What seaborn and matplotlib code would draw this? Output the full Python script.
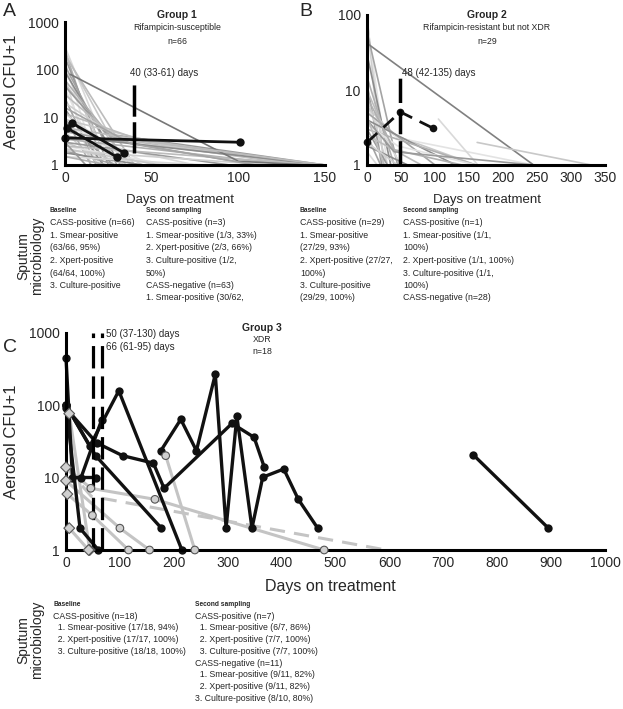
"""Aerosol CFU over time for three drug-resistance groups, with sputum summaries."""

import matplotlib

matplotlib.use("Agg")
import matplotlib.pyplot as plt
import pandas as pd
import seaborn as sns
from matplotlib.ticker import FixedLocator, MultipleLocator, NullFormatter

# ---- Group 1 (rifampicin-susceptible) -------------------------------------
A_GRAY_DAYS = [
    [0, 28], [0, 22], [0, 35], [0, 25], [0, 18], [0, 40], [0, 30], [0, 20, 45],
    [0, 32], [0, 15], [0, 26, 140], [0, 38], [0, 24, 150], [0, 20], [0, 30, 135],
    [0, 18], [0, 35, 145], [0, 22], [0, 40], [0, 15], [0, 60, 150], [0, 28],
    [0, 50], [0, 140], [0, 110], [0, 20], [0, 150], [0, 75], [0, 130], [0, 35],
    [0, 95], [0, 60], [0, 145], [0, 30], [0, 120], [0, 45], [0, 80], [0, 25],
    [0, 55], [0, 12], [3, 100, 140], [0, 45, 150], [0, 38, 110],
]
A_GRAY_CFU = [
    [300, 1], [250, 1], [220, 1], [180, 1], [150, 1], [200, 1], [120, 1], [100, 3, 1],
    [90, 1], [70, 1], [60, 4, 1], [50, 1], [45, 4.5, 1], [40, 1], [30, 3.5, 1],
    [25, 1], [20, 3, 1], [15, 1], [12, 1], [10, 1], [9, 2.5, 1], [8, 1],
    [7, 1], [6, 1], [5, 1], [5, 1], [4, 1], [4, 1], [3.5, 1], [3, 1],
    [3, 1], [2.5, 1], [2.5, 1], [2, 1], [2, 1], [1.8, 1], [1.5, 1], [1.5, 1],
    [2.2, 1], [3, 1], [80, 1.2, 1], [12, 3.2, 1], [16, 2.8, 1],
]
A_BLACK_DAYS = [[0, 101], [1, 30], [4, 34]]
A_BLACK_CFU = [[3.7, 3.0], [6.0, 1.47], [7.6, 1.8]]
A_MEDIAN = 40

# ---- Group 2 (rifampicin-resistant, not XDR) ------------------------------
B_GRAY_DAYS = [
    [0, 20], [0, 25], [0, 30], [0, 45], [0, 35], [0, 40], [0, 22], [0, 48],
    [0, 30], [0, 50], [0, 40, 160], [0, 45, 245], [0, 100], [0, 130], [0, 160],
    [0, 30], [0, 80], [0, 245], [105, 163], [162, 330], [0, 45, 160], [0, 20],
    [0, 60], [0, 40, 140], [0, 40, 245], [0, 25], [0, 45], [0, 15],
]
B_GRAY_CFU = [
    [100, 1], [90, 1], [80, 1], [60, 1], [30, 1], [15, 1], [12, 1], [10, 1],
    [8, 1], [6, 1], [6, 2.5, 1], [5, 2.3, 1], [5, 1], [4, 1], [3, 1],
    [3, 1], [2.5, 1], [42, 1], [4.1, 1], [2.0, 1], [3.5, 1.8, 1], [2.5, 1],
    [1.8, 1], [8, 1.6, 1], [4, 1.5, 1], [4.5, 1], [2, 1], [1.5, 1],
]
B_BLACK_DAYS = [0, 49, 97]
B_BLACK_CFU = [2.0, 5.1, 3.1]
B_MEDIAN = 48

# ---- Group 3 (XDR) --------------------------------------------------------
C_BLACK_DAYS = [
    [0, 12, 55],
    [0, 26, 60],
    [28, 66],
    [0, 44, 98, 215],
    [0, 57, 105, 162, 182, 308, 349, 368],
    [0, 55, 177],
    [176, 213, 242, 277, 297, 317, 345, 365, 404, 431, 467],
    [756, 895],
]
C_BLACK_CFU = [
    [444, 10, 10],
    [100, 2, 1],
    [10, 62],
    [100, 27, 157, 1],
    [90, 30, 20, 15.8, 7.1, 55.7, 35.8, 13.8],
    [100, 20, 2],
    [23.4, 63.4, 23.4, 265, 2, 70, 2, 10.1, 13.1, 5, 2],
    [20.4, 2.0],
]
C_GRAY_DAYS = [[6, 44], [0, 46, 165, 479], [2.5, 49, 116], [6, 42], [0, 100, 155], [185, 239]]
C_GRAY_CFU = [[76, 1], [13.8, 7.1, 5, 1], [5.9, 3, 1], [2, 1], [9, 2, 1], [20, 1]]
C_GRAY_KIND = [["d", "d"], ["d", "o", "o", "o"], ["d", "o", "o"], ["d", "d"], ["d", "o", "o"], ["o", "o"]]
C_DASH_DAYS = [0, 47, 594]
C_DASH_CFU = [13.8, 5.5, 1]
C_MEDIANS = [50, 66]

A_TITLE = ["Group 1", "Rifampicin-susceptible", "n=66"]
B_TITLE = ["Group 2", "Rifampicin-resistant but not XDR", "n=29"]
C_TITLE = ["Group 3", "XDR", "n=18"]

A_BASE = ["CASS-positive (n=66)", "1. Smear-positive", "(63/66, 95%)", "2. Xpert-positive",
          "(64/64, 100%)", "3. Culture-positive"]
A_SECOND = ["CASS-positive (n=3)", "1. Smear-positive (1/3, 33%)", "2. Xpert-positive (2/3, 66%)",
            "3. Culture-positive (1/2,", "50%)", "CASS-negative (n=63)", "1. Smear-positive (30/62,"]
B_BASE = ["CASS-positive (n=29)", "1. Smear-positive", "(27/29, 93%)", "2. Xpert-positive (27/27,",
          "100%)", "3. Culture-positive", "(29/29, 100%)"]
B_SECOND = ["CASS-positive (n=1)", "1. Smear-positive (1/1,", "100%)", "2. Xpert-positive (1/1, 100%)",
            "3. Culture-positive (1/1,", "100%)", "CASS-negative (n=28)"]
C_BASE = ["CASS-positive (n=18)", "  1. Smear-positive (17/18, 94%)", "  2. Xpert-positive (17/17, 100%)",
          "  3. Culture-positive (18/18, 100%)"]
C_SECOND = ["CASS-positive (n=7)", "  1. Smear-positive (6/7, 86%)", "  2. Xpert-positive (7/7, 100%)",
            "  3. Culture-positive (7/7, 100%)", "CASS-negative (n=11)", "  1. Smear-positive (9/11, 82%)",
            "  2. Xpert-positive (9/11, 82%)", "3. Culture-positive (8/10, 80%)"]

W, H = 623, 709
GRAYS = ["#d9d9d9", "#b0b0b0", "#c8c8c8", "#9a9a9a", "#e3e3e3", "#bcbcbc", "#a4a4a4", "#cfcfcf", "#8c8c8c"]


def px(x, y):
    return x / W, 1 - y / H


def frame(days, cfu, prefix):
    rows = []
    for i, (ds, vs) in enumerate(zip(days, cfu)):
        for d, v in zip(ds, vs):
            rows.append({"pid": f"{prefix}{i:02d}", "day": d, "cfu": v})
    return pd.DataFrame(rows)


def draw_lines(ax, data, colors, **kw):
    palette = dict(zip(data["pid"].unique(), colors))
    sns.lineplot(data=data, x="day", y="cfu", hue="pid", palette=palette, estimator=None,
                 sort=False, legend=False, ax=ax, clip_on=False, **kw)


def style_axis(ax, xmax, xmajor, xminor, ymax):
    ax.set_yscale("log")
    ax.set_xlim(0, xmax)
    ax.set_ylim(1, ymax)
    for side in ("top", "right"):
        ax.spines[side].set_visible(False)
    for side in ("left", "bottom"):
        ax.spines[side].set_linewidth(2.2)
        ax.spines[side].set_color("black")
    ax.xaxis.set_major_locator(MultipleLocator(xmajor))
    ax.xaxis.set_minor_locator(MultipleLocator(xminor))
    yt = [t for t in (1, 10, 100, 1000) if t <= ymax]
    ax.yaxis.set_major_locator(FixedLocator(yt))
    ax.set_yticklabels([str(t) for t in yt])
    ax.yaxis.set_minor_formatter(NullFormatter())
    ax.tick_params(axis="both", which="major", direction="inout", length=5, width=2, labelsize=10, pad=2)
    ax.tick_params(axis="both", which="minor", direction="inout", length=3, width=1.5)
    ax.set_xlabel("")
    ax.set_ylabel("")
    ax.set_facecolor("white")
    ax.grid(False)


def title_block(fig, xc, lines, y0, dy):
    fig.text(*px(xc, y0), lines[0], ha="center", va="center", fontsize=7.5, fontweight="bold")
    for i, line in enumerate(lines[1:], start=1):
        fig.text(*px(xc, y0 + i * dy), line, ha="center", va="center", fontsize=6.3)


def text_block(fig, x, y0, dy, heading, lines):
    fig.text(*px(x, y0), heading, ha="left", va="center", fontsize=4.8, fontweight="bold")
    for i, line in enumerate(lines, start=1):
        fig.text(*px(x, y0 + i * dy - 0.5), line, ha="left", va="center", fontsize=6.3)


sns.set_theme(style="white")
plt.rcParams["font.family"] = ["Liberation Sans", "DejaVu Sans"]

fig = plt.figure(figsize=(W / 100, H / 100), dpi=100)
fig.patch.set_facecolor("white")

# ---- panel A ----
ax_a = fig.add_axes([65 / W, 1 - 165 / H, 260 / W, 143 / H])
a_colors = [GRAYS[i % len(GRAYS)] for i in range(len(A_GRAY_DAYS))]
a_colors[40] = "#777777"
draw_lines(ax_a, frame(A_GRAY_DAYS, A_GRAY_CFU, "a"), a_colors, linewidth=1.2)
draw_lines(ax_a, frame(A_BLACK_DAYS, A_BLACK_CFU, "k"), ["#111111"] * len(A_BLACK_DAYS),
           linewidth=2, marker="o", markersize=6, markeredgewidth=0)
ax_a.plot([A_MEDIAN, A_MEDIAN], [1.8, 55], color="black", lw=2.5, dashes=(9, 1.6))
style_axis(ax_a, 150, 50, 10, 1000)
fig.text(*px(130, 73), f"{A_MEDIAN} (33-61) days", fontsize=7, va="center")
title_block(fig, 177, A_TITLE, 15, 13)

# ---- panel B ----
ax_b = fig.add_axes([367 / W, 1 - 165 / H, 238 / W, 150 / H])
b_colors = [GRAYS[(i * 2) % len(GRAYS)] for i in range(len(B_GRAY_DAYS))]
b_colors[17] = "#808080"
draw_lines(ax_b, frame(B_GRAY_DAYS, B_GRAY_CFU, "b"), b_colors, linewidth=1.2)
sns.lineplot(x=B_BLACK_DAYS, y=B_BLACK_CFU, ax=ax_b, color="#111111", linewidth=2, sort=False,
             estimator=None, marker="o", markersize=5.5, markeredgewidth=0, dashes=False, clip_on=False)
ax_b.lines[-1].set_dashes((5, 3))
ax_b.plot([B_MEDIAN, B_MEDIAN], [1, 15], color="black", lw=2.5, dashes=(7, 2))
style_axis(ax_b, 350, 50, 10, 100)
fig.text(*px(402, 73), f"{B_MEDIAN} (42-135) days", fontsize=7, va="center")
title_block(fig, 487, B_TITLE, 15, 13)

# ---- panel C ----
ax_c = fig.add_axes([66 / W, 1 - 550 / H, 539 / W, 217.5 / H])
gray_c = frame(C_GRAY_DAYS, C_GRAY_CFU, "g")
gray_c["kind"] = [k for ks in C_GRAY_KIND for k in ks]
draw_lines(ax_c, gray_c, ["#c4c4c4"] * len(C_GRAY_DAYS), linewidth=2.2)
ax_c.plot(C_DASH_DAYS, C_DASH_CFU, color="#c4c4c4", lw=2.2, dashes=(5, 3))
draw_lines(ax_c, frame(C_BLACK_DAYS, C_BLACK_CFU, "c"), ["#111111"] * len(C_BLACK_DAYS),
           linewidth=2.4, marker="o", markersize=6, markeredgewidth=0)
sns.scatterplot(data=gray_c, x="day", y="cfu", style="kind", markers={"o": "o", "d": "D"},
                ax=ax_c, color="#d0d0d0", edgecolor="#555555", linewidth=0.8, s=30,
                legend=False, zorder=5, clip_on=False)
for med in C_MEDIANS:
    ax_c.plot([med, med], [1, 1000], color="black", lw=2.3, dashes=(7, 2.5))
style_axis(ax_c, 1000, 100, 20, 1000)
fig.text(*px(106, 334), f"{C_MEDIANS[0]} (37-130) days", fontsize=7, va="center")
fig.text(*px(106, 347), f"{C_MEDIANS[1]} (61-95) days", fontsize=7, va="center")
title_block(fig, 262, C_TITLE, 328, 12)

# ---- axis labels, panel letters ----
for y in (92, 442):
    fig.text(*px(12, y), "Aerosol CFU+1", rotation=90, ha="center", va="center", fontsize=12)
fig.text(*px(180, 200), "Days on treatment", ha="center", va="center", fontsize=9.5)
fig.text(*px(487, 200), "Days on treatment", ha="center", va="center", fontsize=9.5)
fig.text(*px(330, 586), "Days on treatment", ha="center", va="center", fontsize=11.5)
fig.text(*px(3, 12), "A", fontsize=14, va="center")
fig.text(*px(299, 12), "B", fontsize=14, va="center")
fig.text(*px(3, 347), "C", fontsize=14, va="center")

# ---- sputum microbiology summaries ----
for y in (256, 640):
    fig.text(*px(30, y), "Sputum\nmicrobiology", rotation=90, ha="center", va="center",
             fontsize=10, linespacing=0.95)
text_block(fig, 50, 211, 12.5, "Baseline", A_BASE)
text_block(fig, 146, 211, 12.5, "Second sampling", A_SECOND)
text_block(fig, 300, 211, 12.5, "Baseline", B_BASE)
text_block(fig, 403, 211, 12.5, "Second sampling", B_SECOND)
text_block(fig, 53, 605, 11.7, "Baseline", C_BASE)
text_block(fig, 195, 605, 11.7, "Second sampling", C_SECOND)

fig.savefig("out.png", dpi=100, facecolor="white")
